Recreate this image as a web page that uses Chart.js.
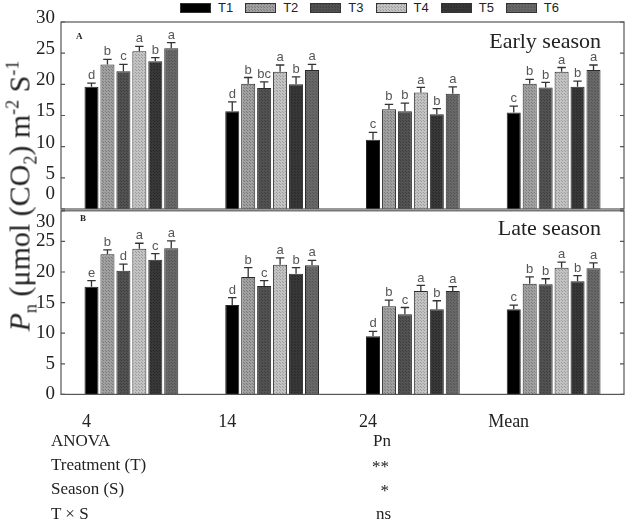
<!DOCTYPE html>
<html>
<head>
<meta charset="utf-8">
<script src="https://cdn.jsdelivr.net/npm/chart.js@4.4.1/dist/chart.umd.min.js"></script>
<style>
body { margin:0; background:#fff; width:629px; height:532px; position:relative; overflow:hidden; font-family:"Liberation Serif", serif; color:#222; }
#wrapA { position:absolute; left:0; top:0; width:629px; height:240px; }
#wrapB { position:absolute; left:0; top:182px; width:629px; height:273px; }
#legend { position:absolute; left:180px; top:2px; display:flex; font-family:"Liberation Sans", Arial, sans-serif; font-size:13px; line-height:11px; }
#legend .item { display:flex; align-items:center; margin-right:12px; }
#legend canvas { width:31px; height:10px; margin-right:7px; }
.lbl { position:absolute; white-space:nowrap; }
#ytitle { position:absolute; left:22px; top:196px; transform:translate(-50%,-50%) rotate(-90deg); font-size:30px; white-space:nowrap; }
#ytitle sub, #ytitle sup { font-size:18px; }
.anova { position:absolute; font-size:17px; white-space:nowrap; }
</style>
</head>
<body>
<div id="legend"></div>
<div id="wrapA"><canvas id="chartA"></canvas></div>
<div id="wrapB"><canvas id="chartB"></canvas></div>
<div id="ytitle"><i>P</i><sub>n</sub> (μmol (CO<sub>2</sub>) m<sup>-2</sup> S<sup>-1</sup></div>
<div class="lbl" style="left:76px;top:31px;font-size:9px;font-weight:bold;">A</div>
<div class="lbl" style="left:80px;top:213px;font-size:9px;font-weight:bold;">B</div>
<div class="lbl" style="right:28px;top:28px;font-size:22px;">Early season</div>
<div class="lbl" style="right:28px;top:215px;font-size:22px;">Late season</div>
<div class="anova" style="left:51px;top:431px;">ANOVA</div>
<div class="anova" style="left:51px;top:455px;">Treatment (T)</div>
<div class="anova" style="left:51px;top:479px;">Season (S)</div>
<div class="anova" style="left:51px;top:504px;">T × S</div>
<div class="anova" style="right:238px;top:431px;">Pn</div>
<div class="anova" style="right:240px;top:457px;">**</div>
<div class="anova" style="right:240px;top:481px;">*</div>
<div class="anova" style="right:238px;top:504px;">ns</div>
<script>
// sampling days
const days = ['4', '14', '24', 'Mean'];
const treatments = ['T1', 'T2', 'T3', 'T4', 'T5', 'T6'];
const yTicks = [0, 5, 10, 15, 20, 25, 30];

// early season (panel A), one row per treatment
const earlyMeans = [
  [19.6, 15.7, 11.1, 15.5],
  [23.2, 20.1, 16.0, 20.1],
  [22.1, 19.4, 15.7, 19.5],
  [25.3, 22.0, 18.7, 22.0],
  [23.7, 20.0, 15.2, 19.6],
  [25.8, 22.3, 18.5, 22.3]
];
const earlyErr = [
  [0.6, 1.5, 1.2, 1.0],
  [0.8, 1.0, 0.8, 0.7],
  [1.1, 1.0, 1.3, 0.8],
  [0.8, 1.1, 0.8, 0.7],
  [0.6, 1.2, 0.9, 0.9],
  [0.9, 0.9, 1.1, 0.8]
];
const earlyLetters = [
  ['d', 'd', 'c', 'c'],
  ['b', 'b', 'b', 'b'],
  ['c', 'bc', 'b', 'b'],
  ['a', 'a', 'a', 'a'],
  ['b', 'b', 'b', 'b'],
  ['a', 'a', 'a', 'a']
];

// late season (panel B)
const lateMeans = [
  [17.6, 14.6, 9.5, 13.9],
  [22.9, 19.2, 14.4, 18.1],
  [20.2, 17.7, 13.1, 18.0],
  [23.8, 21.2, 16.9, 20.7],
  [22.0, 19.7, 13.9, 18.5],
  [23.9, 21.1, 16.9, 20.6]
];
const lateErr = [
  [1.0, 1.2, 0.8, 0.7],
  [0.7, 1.5, 1.0, 1.1],
  [1.1, 0.9, 1.1, 0.9],
  [0.9, 1.1, 0.9, 0.9],
  [1.0, 1.0, 1.4, 0.9],
  [1.2, 0.8, 0.7, 0.9]
];
const lateLetters = [
  ['e', 'd', 'd', 'c'],
  ['b', 'b', 'b', 'b'],
  ['d', 'c', 'c', 'b'],
  ['a', 'a', 'a', 'a'],
  ['c', 'b', 'b', 'b'],
  ['a', 'a', 'a', 'a']
];

// grey fills, base + dot colour
const fillBase = ['#000000', '#a0a0a0', '#525252', '#c2c2c2', '#383838', '#686868'];
const fillDot  = ['#000000', '#7a7a7a', '#3e3e3e', '#9a9a9a', '#282828', '#545454'];

function makePattern(base, dot) {
  let c = document.createElement('canvas');
  c.width = 3; c.height = 3;
  let g = c.getContext('2d');
  g.fillStyle = base; g.fillRect(0, 0, 3, 3);
  g.fillStyle = dot; g.fillRect(1, 1, 1, 1); g.fillRect(0, 0, 1, 1);
  return g.createPattern(c, 'repeat');
}
const fills = fillBase.map((b, i) => makePattern(b, fillDot[i]));

// legend
let legend = document.getElementById('legend');
treatments.forEach((t, i) => {
  let item = document.createElement('div');
  item.className = 'item';
  let sw = document.createElement('canvas');
  sw.width = 31; sw.height = 10;
  let g = sw.getContext('2d');
  g.fillStyle = fills[i]; g.fillRect(0, 0, 31, 10);
  g.strokeStyle = '#333'; g.lineWidth = 1; g.strokeRect(0.5, 0.5, 30, 9);
  item.appendChild(sw);
  let s = document.createElement('span');
  s.textContent = t;
  item.appendChild(s);
  legend.appendChild(item);
});

const framePlugin = {
  id: 'frame',
  afterDraw(chart) {
    let a = chart.chartArea, ctx = chart.ctx, y = chart.scales.y;
    ctx.save();
    ctx.strokeStyle = '#555';
    ctx.lineWidth = 1.2;
    ctx.strokeRect(a.left, a.top, a.right - a.left, a.bottom - a.top);
    ctx.beginPath();
    yTicks.forEach(v => {
      let py = y.getPixelForValue(v);
      ctx.moveTo(a.left, py); ctx.lineTo(a.left + 4, py);
      ctx.moveTo(a.right - 4, py); ctx.lineTo(a.right, py);
    });
    ctx.stroke();
    ctx.restore();
  }
};

const errPlugin = {
  id: 'errbars',
  afterDatasetsDraw(chart, args, opts) {
    let ctx = chart.ctx, y = chart.scales.y;
    ctx.save();
    chart.data.datasets.forEach((ds, i) => {
      let meta = chart.getDatasetMeta(i);
      meta.data.forEach((bar, j) => {
        let top = y.getPixelForValue(ds.data[j] + opts.errors[i][j]);
        let half = bar.width * 0.3;
        ctx.strokeStyle = '#333';
        ctx.lineWidth = 1.3;
        ctx.beginPath();
        ctx.moveTo(bar.x, bar.y); ctx.lineTo(bar.x, top);
        ctx.moveTo(bar.x - half, top); ctx.lineTo(bar.x + half, top);
        ctx.stroke();
        ctx.fillStyle = '#555';
        ctx.font = '13px "Liberation Sans", Arial, sans-serif';
        ctx.textAlign = 'center';
        ctx.textBaseline = 'bottom';
        ctx.fillText(opts.letters[i][j], bar.x, top - 1);
      });
    });
    ctx.restore();
  }
};

function makeDatasets(means) {
  return treatments.map((t, i) => ({
    label: t,
    data: means[i],
    backgroundColor: fills[i],
    borderColor: '#2a2a2a',
    borderWidth: 1,
    categoryPercentage: 0.68,
    barPercentage: 0.88
  }));
}

function yAxis(isTop) {
  return {
    min: 0, max: 30,
    grid: { display: false, drawTicks: false },
    border: { display: false },
    afterFit: s => { s.width = 61; },
    afterBuildTicks: s => { s.ticks = yTicks.map(v => ({ value: v })); },
    ticks: {
      autoSkip: false,
      padding: 6,
      color: '#222',
      labelOffset: isTop ? -4 : 0,
      font: { family: 'Liberation Serif', size: 19 },
      callback: v => {
        if (isTop && v === 0) return ['0', ''];
        if (!isTop && v === 30) return ['', '30'];
        return String(v);
      }
    }
  };
}

Chart.defaults.animation = false;

new Chart(document.getElementById('chartA'), {
  type: 'bar',
  data: { labels: days, datasets: makeDatasets(earlyMeans) },
  options: {
    responsive: true, maintainAspectRatio: false,
    layout: { padding: { left: 0, right: 5, top: 22, bottom: 31 } },
    plugins: {
      legend: { display: false },
      tooltip: { enabled: false },
      errbars: { errors: earlyErr, letters: earlyLetters }
    },
    scales: {
      x: { display: false },
      y: yAxis(true)
    }
  },
  plugins: [framePlugin, errPlugin]
});

new Chart(document.getElementById('chartB'), {
  type: 'bar',
  data: { labels: days, datasets: makeDatasets(lateMeans) },
  options: {
    responsive: true, maintainAspectRatio: false,
    layout: { padding: { left: 0, right: 5, top: 22, bottom: 5 } },
    plugins: {
      legend: { display: false },
      tooltip: { enabled: false },
      errbars: { errors: lateErr, letters: lateLetters }
    },
    scales: {
      x: {
        grid: { display: false, drawTicks: false },
        border: { display: false },
        ticks: {
          padding: 17,
          labelOffset: -45,
          color: '#222',
          font: { family: 'Liberation Serif', size: 18 }
        }
      },
      y: yAxis(false)
    }
  },
  plugins: [framePlugin, errPlugin]
});
</script>
</body>
</html>
